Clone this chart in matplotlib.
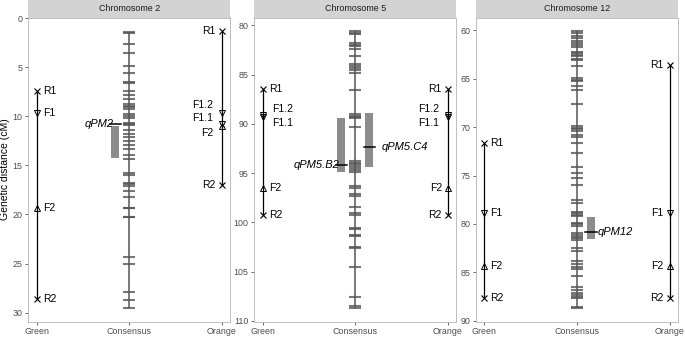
import matplotlib
matplotlib.use("Agg")
import matplotlib.pyplot as plt

plt.rcParams['font.family'] = ['Liberation Sans', 'DejaVu Sans']

# ---------------- data ----------------
chromosomes = ["Chromosome 2", "Chromosome 5", "Chromosome 12"]
categories = ["Green", "Consensus", "Orange"]

consensus_c2 = [1.4, 1.55, 2.6, 3.55, 4.85, 5.55, 6.5, 6.6, 7.4, 7.85, 8.25, 8.8, 8.95,
                9.1, 9.3, 9.75, 10.0, 10.2, 10.7, 10.8, 10.9, 11.45, 11.8, 12.15, 12.5,
                12.95, 13.35, 13.9, 14.4, 15.8, 16.0, 16.8, 16.95, 17.1, 17.65, 18.25,
                19.3, 19.35, 20.25, 20.3, 24.3, 25.0, 27.9, 28.7, 29.5]
consensus_c5 = [80.6, 80.75, 80.9, 81.8, 81.95, 82.1, 82.35, 83.1, 83.95, 84.1, 84.3,
                84.55, 84.8, 86.55, 89.0, 89.15, 89.3, 89.4, 90.35, 93.75, 93.95, 94.1,
                94.3, 94.45, 94.65, 94.85, 96.3, 96.5, 97.15, 97.35, 98.4, 99.0, 99.2,
                100.55, 100.7, 101.3, 101.4, 102.45, 102.6, 104.5, 107.55, 108.5, 108.65]
consensus_c12 = [60.1, 60.3, 60.55, 60.8, 61.05, 61.3, 61.55, 61.7, 62.2, 62.35, 62.5,
                 62.6, 62.95, 63.1, 63.65, 64.95, 65.1, 65.25, 65.8, 66.2, 67.6, 69.9,
                 70.05, 70.2, 70.35, 70.8, 71.05, 71.65, 72.65, 74.1, 74.7, 75.25, 75.95,
                 77.5, 77.8, 78.75, 78.9, 79.05, 79.2, 79.9, 80.05, 80.2, 80.9, 81.1,
                 81.3, 81.5, 81.65, 82.5, 82.8, 83.85, 84.1, 84.4, 84.65, 85.4, 86.5,
                 86.85, 87.1, 87.3, 87.5, 87.65, 88.55, 88.65]

green_names_c2 = ["R1", "F1", "F2", "R2"]
green_pos_c2 = [7.4, 9.65, 19.3, 28.65]
orange_names_c2 = ["R1", "F1.2", "F1.1", "F2", "R2"]
orange_pos_c2 = [1.35, 9.7, 10.8, 11.0, 17.0]

green_names_c5 = ["R1", "F1.2", "F1.1", "F2", "R2"]
green_pos_c5 = [86.5, 89.05, 89.3, 96.5, 99.2]
orange_names_c5 = ["R1", "F1.2", "F1.1", "F2", "R2"]
orange_pos_c5 = [86.5, 89.05, 89.3, 96.5, 99.2]

green_names_c12 = ["R1", "F1", "F2", "R2"]
green_pos_c12 = [71.65, 78.9, 84.3, 87.6]
orange_names_c12 = ["R1", "F1", "F2", "R2"]
orange_pos_c12 = [63.6, 78.9, 84.3, 87.6]

qtl_names = ["qPM2", "qPM5.B2", "qPM5.C4", "qPM12"]
qtl_chrom = [0, 1, 1, 2]
qtl_peak = [10.8, 94.15, 92.3, 80.8]
qtl_low = [11.0, 89.4, 88.9, 79.3]
qtl_high = [14.3, 94.9, 94.4, 81.6]
qtl_side = [-1, -1, 1, 1]

# label placement (repelled text) in cM, for labels that are shifted off their marker
label_y_c2_orange = {"F1.2": 8.87, "F1.1": 10.23, "F2": 11.72}
label_y_c5 = {"F1.2": 88.44, "F1.1": 89.9}

# ---------------- layout ----------------
W, H = 685, 337
fig = plt.figure(figsize=(W / 100, H / 100), dpi=100)

def px_axes(left, top, width, height):
    return fig.add_axes([left / W, 1 - (top + height) / H, width / W, height / H])

panel_left = [28.3, 254.3, 476.0]
panel_w = 202.0
panel_top = 17.5
panel_h = 304.0

consensus = [consensus_c2, consensus_c5, consensus_c12]
greens = [(green_names_c2, green_pos_c2), (green_names_c5, green_pos_c5),
          (green_names_c12, green_pos_c12)]
oranges = [(orange_names_c2, orange_pos_c2), (orange_names_c5, orange_pos_c5),
           (orange_names_c12, orange_pos_c12)]
label_overrides_green = [{}, label_y_c5, {}]
label_overrides_orange = [label_y_c2_orange, label_y_c5, {}]
yticks = [[0, 5, 10, 15, 20, 25, 30], [80, 85, 90, 95, 100, 105, 110],
          [60, 65, 70, 75, 80, 85, 90]]

border_col = '#bdbdbd'
strip_col = '#d3d3d3'
tick_col = '#4d4d4d'
cons_col = '#555555'

def marker_for(name):
    if name.startswith("R"):
        return dict(marker='x', ms=3.8, mew=0.8, mfc='none', mec='black')
    if name.startswith("F1"):
        return dict(marker='v', ms=4.2, mew=0.7, mfc='none', mec='black')
    return dict(marker='^', ms=4.2, mew=0.7, mfc='none', mec='black')

for i in range(3):
    ax = px_axes(panel_left[i], panel_top, panel_w, panel_h)
    # strip
    sax = px_axes(panel_left[i], 0.0, panel_w, panel_top)
    sax.set_facecolor(strip_col)
    sax.set_xticks([]); sax.set_yticks([])
    for s in sax.spines.values():
        s.set_visible(False)
    sax.text(0.5, 0.5, chromosomes[i], ha='center', va='center', fontsize=6.4,
             color='#1a1a1a', transform=sax.transAxes)

    cons = consensus[i]
    gnames, gpos = greens[i]
    onames, opos = oranges[i]

    # limits: 5% expansion of data range (ggplot style), reversed axis
    allv = list(cons) + list(gpos) + list(opos)
    lo, hi = min(allv), max(allv)
    pad = 0.05 * (hi - lo)
    ax.set_ylim(hi + pad, lo - pad)
    ax.set_xlim(0.91, 3.09)

    # consensus map
    ax.vlines(2, min(cons), max(cons), color=cons_col, lw=1.1, zorder=2)
    ax.hlines(cons, 2 - 0.065, 2 + 0.065, color=cons_col, lw=1.5, alpha=0.8, zorder=3)

    # green / orange maps
    for xpos, names, pos, side, over in [(1, gnames, gpos, 1, label_overrides_green[i]),
                                         (3, onames, opos, -1, label_overrides_orange[i])]:
        ax.vlines(xpos, min(pos), max(pos), color='black', lw=0.9, zorder=2)
        for n, p in zip(names, pos):
            ax.plot([xpos], [p], linestyle='none', zorder=4, **marker_for(n))
            ly = over.get(n, p)
            dx = 6 if ly == p else 9
            ax.annotate(n, xy=(xpos, ly), xytext=(side * dx, 0), textcoords='offset pixels',
                        ha='left' if side > 0 else 'right', va='center', fontsize=7.5,
                        color='black')

    # QTL
    for j in range(len(qtl_names)):
        if qtl_chrom[j] != i:
            continue
        s = qtl_side[j]
        xc = 2 + s * 0.152
        ax.bar(xc, qtl_high[j] - qtl_low[j], bottom=qtl_low[j], width=0.088,
               color='#8c8c8c', zorder=3)
        x0, x1 = 2 + s * 0.09, 2 + s * 0.212
        ax.plot([x0, x1], [qtl_peak[j], qtl_peak[j]], color='black', lw=1.1, zorder=4)
        gap = 1 if qtl_names[j] == "qPM12" else 7
        ax.annotate(qtl_names[j], xy=(x1 if s > 0 else x0, qtl_peak[j]),
                    xytext=(s * gap, 0), textcoords='offset pixels',
                    ha='left' if s > 0 else 'right', va='center', fontsize=8,
                    style='italic', color='black')

    ax.set_yticks(yticks[i])
    ax.set_xticks([1, 2, 3])
    ax.set_xticklabels(categories)
    ax.tick_params(axis='both', colors=tick_col, length=2.5, width=0.6,
                   labelsize=6.4, pad=1.5)
    ax.tick_params(axis='x', labelsize=6.4)
    for s in ax.spines.values():
        s.set_color(border_col)
        s.set_linewidth(0.7)
    if i == 0:
        ax.set_ylabel("Genetic distance (cM)", fontsize=7.5, color='black', labelpad=2)

fig.savefig("out.png", dpi=100)
